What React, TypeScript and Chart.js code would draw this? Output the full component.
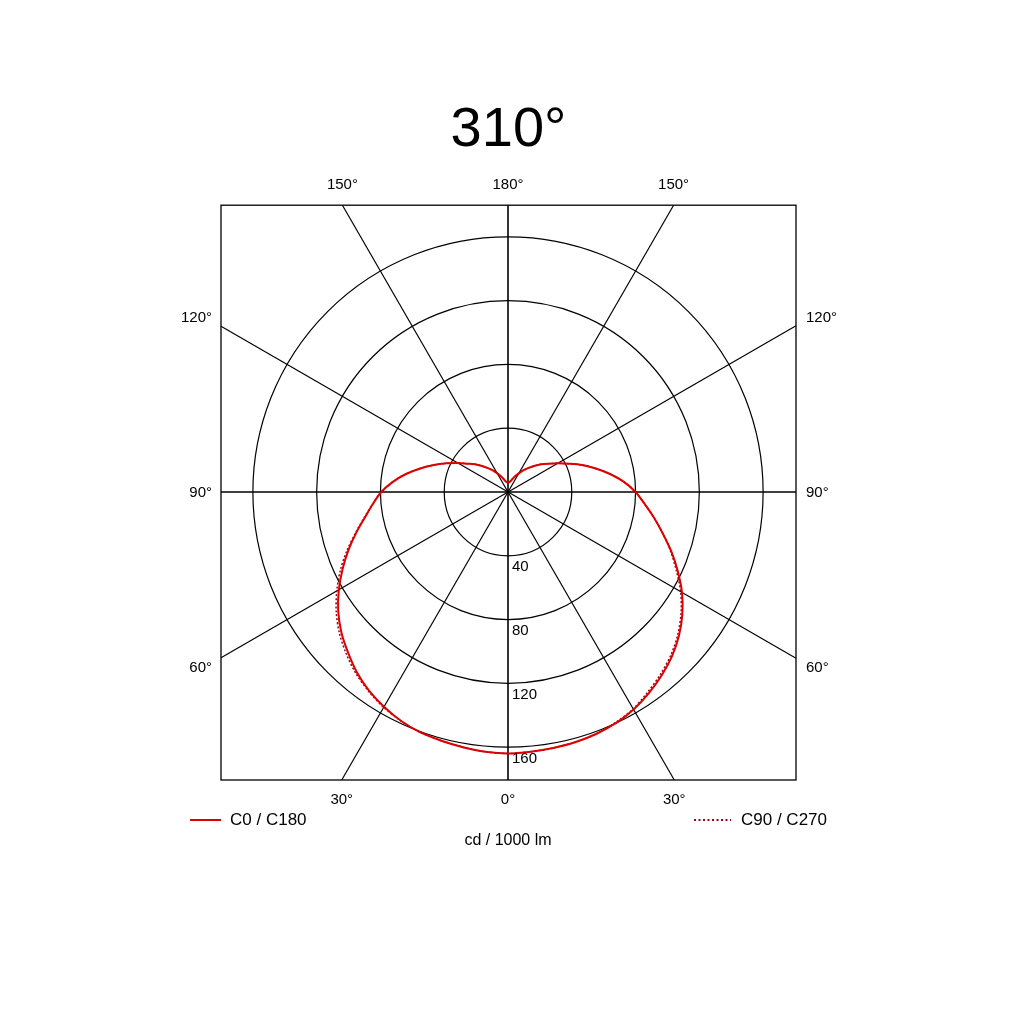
import React, { useEffect, useRef } from "react";
import { Chart, registerables } from "chart.js";

Chart.register(...registerables);

// gamma angles (deg) of one half-plane, 0 = straight down
const GAMMA = [
  0, 5, 10, 15, 20, 25, 30, 35, 40, 45, 50, 55, 60, 65, 70, 75, 80, 85, 90, 95, 100,
  105, 110, 115, 120, 125, 130, 135, 140, 145, 150, 155, 160, 165, 170, 175, 180,
];

// cd / 1000 lm
const C0 = [
  164, 163.5, 162.5, 161.5, 160.5, 158.5, 155.5, 152, 147.5, 142, 136.5, 130, 122.5,
  114.5, 106.5, 98.5, 91, 85, 79.5, 72.5, 65, 57, 49.5, 42.5, 36.5, 31, 27, 23, 19.5,
  16.5, 13.5, 11, 9, 7.5, 6.5, 6, 6,
];
const C180 = [
  164, 163.5, 163, 162.5, 161.5, 160, 157.5, 154, 150, 145.5, 140, 133.5, 126, 117.5,
  109, 100.5, 93, 86, 80, 73, 65, 57, 49.5, 42, 36, 31, 27, 23, 19.5, 16.5, 13.5,
  11, 9, 7.5, 6.5, 6, 6,
];
const C90 = [
  164, 163.5, 162.5, 161.5, 160.5, 158.5, 156, 152.5, 148.5, 143.5, 138, 131.5, 124,
  116, 107.5, 99, 91.5, 85, 79.5, 72.5, 65, 57, 49.5, 42.5, 36.5, 31, 27, 23, 19.5,
  16.5, 13.5, 11, 9, 7.5, 6.5, 6, 6,
];
const C270 = [
  164, 163.5, 163, 162.5, 161.5, 159.5, 157, 153, 149, 144.5, 139, 132.5, 125, 116.5,
  108.5, 100.5, 93, 86, 80, 73, 65, 57, 49.5, 42, 36, 31, 27, 23, 19.5, 16.5, 13.5, 11,
  9, 7.5, 6.5, 6, 6,
];

const RINGS = [40, 80, 120, 160];
const SPOKES = [0, 30, 60, 90, 120, 150];
const ANGLE_LABELS = [0, 30, 60, 90, 120, 150, 180, 150, 120, 90, 60, 30];
const TITLE = "310°";
const UNIT = "cd / 1000 lm";
const SERIES_NAMES = ["C0 / C180", "C90 / C270"];

const STEP = 5;
const FONT = "'Liberation Sans', Arial, sans-serif";
const SOLID_RED = "#dd0000";
const DOT_RED = "#a00018";

// full circle: left half from one plane, right half mirrored from the opposite one
const fullCircle = (left: number[], right: number[]) => [
  ...left,
  ...right.slice(1, right.length - 1).reverse(),
];
const LABELS = fullCircle(GAMMA, GAMMA).map((g) => String(g));

function edgeHit(cx: number, cy: number, dx: number, dy: number, a: any) {
  const tx = dx > 1e-9 ? (a.right - cx) / dx : dx < -1e-9 ? (a.left - cx) / dx : Infinity;
  const ty = dy > 1e-9 ? (a.bottom - cy) / dy : dy < -1e-9 ? (a.top - cy) / dy : Infinity;
  const t = Math.min(tx, ty);
  return { x: cx + dx * t, y: cy + dy * t, side: tx < ty };
}

const framePlugin = {
  id: "photometricFrame",
  beforeDatasetsDraw(chart: any) {
    const { ctx, chartArea: a } = chart;
    const r = chart.scales.r;
    const cx = r.xCenter;
    const cy = r.yCenter;
    ctx.save();
    ctx.strokeStyle = "#000";
    SPOKES.forEach((g) => {
      const p = r.getPointPosition(g / STEP, 1);
      const dx = p.x - cx;
      const dy = p.y - cy;
      const h1 = edgeHit(cx, cy, dx, dy, a);
      const h2 = edgeHit(cx, cy, -dx, -dy, a);
      ctx.lineWidth = g === 0 || g === 90 ? 1.6 : 1.2;
      ctx.beginPath();
      ctx.moveTo(h1.x, h1.y);
      ctx.lineTo(h2.x, h2.y);
      ctx.stroke();
    });
    ctx.lineWidth = 1.3;
    ctx.strokeRect(a.left, a.top, a.right - a.left, a.bottom - a.top);
    ctx.restore();
  },
  afterDraw(chart: any) {
    const { ctx, chartArea: a } = chart;
    const r = chart.scales.r;
    const cx = r.xCenter;
    const cy = r.yCenter;
    ctx.save();
    ctx.fillStyle = "#000";

    // angle labels around the frame
    ctx.font = `15px ${FONT}`;
    ANGLE_LABELS.forEach((g, k) => {
      const p = r.getPointPosition((k * 30) / STEP, 1);
      const dx = p.x - cx;
      const dy = p.y - cy;
      const h = edgeHit(cx, cy, dx, dy, a);
      const text = `${g}°`;
      if (h.side) {
        const sy = Math.abs(dy) < 1e-6 ? 0 : Math.sign(dy);
        ctx.textBaseline = "middle";
        ctx.textAlign = dx < 0 ? "right" : "left";
        ctx.fillText(text, dx < 0 ? a.left - 9 : a.right + 10, h.y + sy * 9 + 1);
      } else {
        ctx.textAlign = "center";
        ctx.textBaseline = "middle";
        ctx.fillText(text, h.x, dy < 0 ? a.top - 20 : a.bottom + 20);
      }
    });

    // ring values along the 0° spoke
    ctx.textAlign = "left";
    ctx.textBaseline = "top";
    RINGS.forEach((v) => {
      const d = r.getDistanceFromCenterForValue(v);
      ctx.fillText(String(v), cx + 4, cy + d + 4);
    });

    // legend
    const ly = a.bottom + 40;
    const ds = chart.data.datasets;
    ctx.font = `17px ${FONT}`;
    ctx.textBaseline = "middle";
    ctx.strokeStyle = ds[0].borderColor;
    ctx.lineWidth = 2;
    ctx.beginPath();
    ctx.moveTo(190, ly);
    ctx.lineTo(221, ly);
    ctx.stroke();
    ctx.textAlign = "left";
    ctx.fillText(SERIES_NAMES[0], 230, ly);

    ctx.strokeStyle = ds[1].borderColor;
    ctx.setLineDash([2, 2.5]);
    ctx.beginPath();
    ctx.moveTo(694, ly);
    ctx.lineTo(731, ly);
    ctx.stroke();
    ctx.setLineDash([]);
    ctx.textAlign = "right";
    ctx.fillText(SERIES_NAMES[1], 827, ly);

    // unit
    ctx.font = `16px ${FONT}`;
    ctx.textAlign = "center";
    ctx.fillText(UNIT, cx, a.bottom + 61);
    ctx.restore();
  },
};

const PolarDiagram = () => {
  const chartRef = useRef<HTMLCanvasElement | null>(null);

  useEffect(() => {
    if (!chartRef.current) return;
    const ctx = chartRef.current.getContext("2d");
    if (!ctx) return;

    const chart = new Chart(ctx, {
      type: "radar",
      data: {
        labels: LABELS,
        datasets: [
          {
            label: SERIES_NAMES[0],
            data: fullCircle(C0, C180),
            borderColor: SOLID_RED,
            borderWidth: 2,
            fill: false,
            pointRadius: 0,
          },
          {
            label: SERIES_NAMES[1],
            data: fullCircle(C90, C270),
            borderColor: DOT_RED,
            borderWidth: 1.5,
            borderDash: [2, 2],
            fill: false,
            pointRadius: 0,
          },
        ],
      },
      options: {
        responsive: true,
        maintainAspectRatio: false,
        animation: false,
        layout: {
          padding: { left: 221, right: 228, top: 0, bottom: 244 },
        },
        elements: { line: { tension: 0.3 } },
        scales: {
          r: {
            min: 0,
            max: 180,
            startAngle: 180,
            afterBuildTicks: (scale: any) => {
              // leading 0 is skipped by the grid, so every ring value gets a circle
              scale.ticks = [0, ...RINGS].map((v) => ({ value: v }));
            },
            grid: { circular: true, color: "#000", lineWidth: 1.2 },
            angleLines: { display: false },
            pointLabels: { display: false },
            ticks: { display: false },
          },
        },
        plugins: {
          legend: { display: false },
          tooltip: { enabled: false },
          title: {
            display: true,
            text: TITLE,
            color: "#000",
            font: { size: 56, family: FONT, weight: "normal", lineHeight: 1.2 },
            padding: { top: 97, bottom: 41 },
          },
        },
      },
      plugins: [framePlugin],
    });

    return () => {
      chart.destroy();
    };
  }, []);

  return (
    <div style={{ position: "absolute", left: 0, top: 0, width: 1024, height: 1024, background: "#fff" }}>
      <canvas ref={chartRef} />
    </div>
  );
};

export default function App() {
  return <PolarDiagram />;
}
